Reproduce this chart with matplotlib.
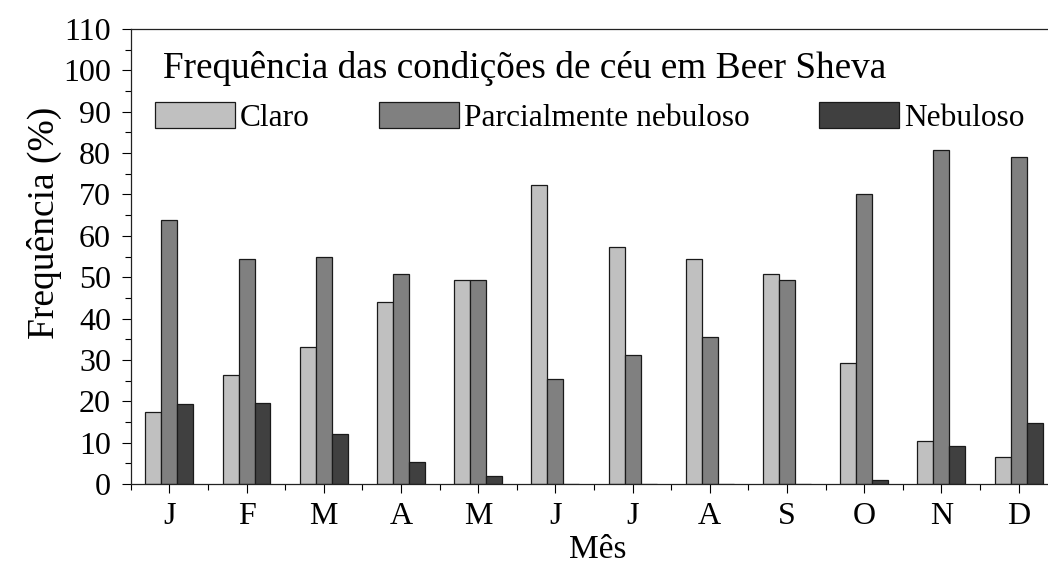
import matplotlib
matplotlib.use('Agg')
import matplotlib.pyplot as plt
import numpy as np
from matplotlib.ticker import MultipleLocator

# monthly frequency (%) of sky conditions, Beer Sheva
months = ['J', 'F', 'M', 'A', 'M', 'J', 'J', 'A', 'S', 'O', 'N', 'D']
claro = [17.3, 26.4, 33.2, 43.9, 49.2, 72.3, 57.3, 54.4, 50.8, 29.3, 10.4, 6.5]
parcial = [63.8, 54.4, 55.0, 50.8, 49.2, 25.4, 31.3, 35.5, 49.2, 70.0, 80.7, 79.1]
nebuloso = [19.3, 19.6, 12.1, 5.2, 2.0, 0, 0, 0, 0, 1.0, 9.2, 14.7]

series_names = ['Claro', 'Parcialmente nebuloso', 'Nebuloso']
series_colors = ['#c0c0c0', '#808080', '#404040']

plt.rcParams['font.family'] = ['Liberation Serif', 'DejaVu Serif']

W, H = 1048, 570
fig = plt.figure(figsize=(W / 100, H / 100), dpi=100)

# axes box in pixels (right edge runs past the picture, as in the original)
left, right, top, bottom = 130.7, 1065, 29, 484
ax = fig.add_axes([left / W, 1 - bottom / H, (right - left) / W, (bottom - top) / H])

x = np.arange(len(months))
w = 0.207
for i, (vals, name, col) in enumerate(zip([claro, parcial, nebuloso], series_names, series_colors)):
    ax.bar(x + (i - 1) * w, vals, width=w, color=col, edgecolor='#1a1a1a',
           linewidth=0.9, label=name)

ax.set_xlim(-0.5, 11.6)
ax.set_ylim(0, 110)
ax.set_xticks(x)
ax.set_xticklabels(months)
ax.xaxis.set_minor_locator(MultipleLocator(1, offset=0.5))
ax.yaxis.set_major_locator(MultipleLocator(10))
ax.yaxis.set_minor_locator(MultipleLocator(5))
ax.tick_params(which='major', direction='out', length=6.7, width=0.8, labelsize=23)
ax.tick_params(which='minor', direction='out', length=4, width=0.8)
ax.tick_params(axis='y', pad=7.5)
ax.tick_params(axis='x', pad=6)
ax.tick_params(top=False, right=False, which='both')

ax.spines['right'].set_visible(False)
for s in ['left', 'bottom', 'top']:
    ax.spines[s].set_color('#222222')
    ax.spines[s].set_linewidth(0.9)

ax.set_xlabel('Mês', fontsize=24, labelpad=3)
ax.set_ylabel('Frequência (%)', fontsize=27)
ax.yaxis.set_label_coords(-0.074, 0.574)

fig.text(163 / W, 1 - 78 / H, 'Frequência das condições de céu em Beer Sheva',
         fontsize=26.8, va='baseline', ha='left')

ax.legend(loc='center left', bbox_to_anchor=(155 / W, 1 - 117.5 / H),
          bbox_transform=fig.transFigure, ncol=3, frameon=False, fontsize=22.6,
          borderpad=0, borderaxespad=0, handlelength=2.55, handleheight=0.88,
          handletextpad=0.16, columnspacing=2.2)

fig.savefig('out.png', dpi=100)
